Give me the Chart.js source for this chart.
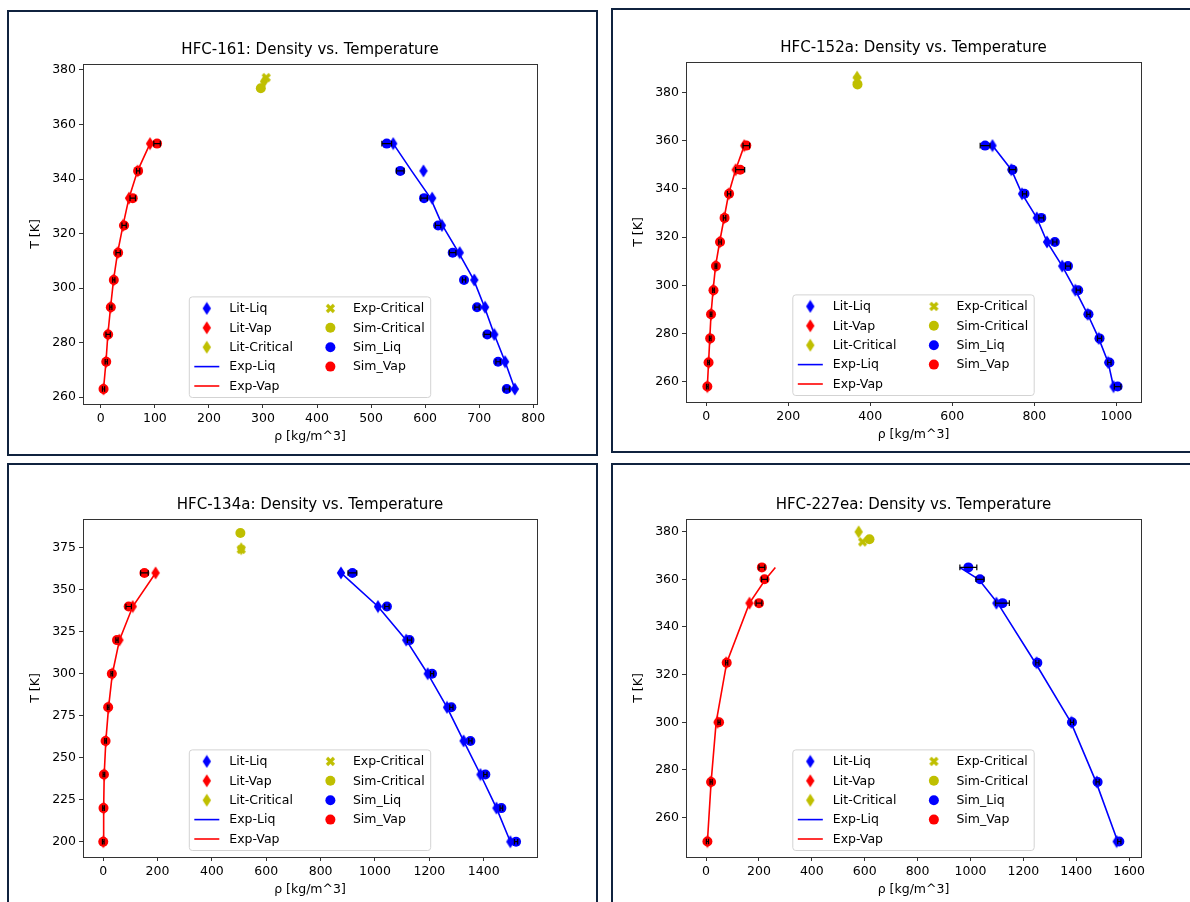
<!DOCTYPE html>
<html>
<head>
<meta charset="utf-8">
<script src="https://cdn.jsdelivr.net/npm/chart.js@4.4.0/dist/chart.umd.min.js"></script>
<style>
body { margin: 0; background: #fff; width: 1190px; height: 902px; overflow: hidden; position: relative; }
.panel { position: absolute; border: 2px solid #10233f; box-sizing: border-box; background: #fff; }
canvas { position: absolute; }
</style>
</head>
<body>
<div class="panel" style="left:7px;top:10px;width:591px;height:446px"></div>
<div class="panel" style="left:611px;top:8px;width:581px;height:445px"></div>
<div class="panel" style="left:7px;top:463px;width:591px;height:443px"></div>
<div class="panel" style="left:611px;top:463px;width:581px;height:443px"></div>
<canvas id="c161"></canvas>
<canvas id="c152"></canvas>
<canvas id="c134"></canvas>
<canvas id="c227"></canvas>
<script>
// HFC-161
const t161 = [263, 273, 283, 293, 303, 313, 323, 333, 343, 353];
const lit161Liq = [766, 748, 728, 711, 691, 664, 631, 613, 597, 541];
const lit161Vap = [5, 9.5, 13, 18, 23.5, 31, 41, 52, 68, 91];
const exp161Liq = [766, 748, 728, 710, 690, 662, 632, 610, 575, 541];
const exp161Vap = [5, 9.5, 13, 18, 23.5, 31, 41, 52, 68, 91];
const sim161Liq = [751, 735, 715, 696, 672, 651, 624, 598, 554, 529];
const sim161LiqErr = [5, 4, 6, 4, 3, 6, 5, 6, 7, 9];
const sim161Vap = [5, 10, 13.5, 18.5, 24, 32, 43, 59, 69, 104];
const sim161VapErr = [2, 2, 4, 2, 2, 4, 4, 5, 3, 6];
const crit161Rho = [302, 306, 296];   // lit, exp, sim
const crit161T = [375.8, 377.2, 373.3];

// HFC-152a
const t152 = [258, 268, 278, 288, 298, 308, 318, 328, 338, 348, 358];
const lit152Liq = [993, 980, 957, 930, 900, 868, 831, 806, 770, 744, 698];
const lit152Vap = [3, 6, 9, 12, 17, 23, 33, 44, 55, 72, 93];
const sim152Liq = [1003, 983, 959, 932, 907, 882, 850, 817, 776, 747, 680];
const sim152LiqErr = [8, 4, 5, 4, 5, 6, 5, 6, 5, 8, 12];
const sim152Vap = [3, 6, 10, 12, 18, 24, 34, 45, 56, 83, 98];
const sim152VapErr = [2, 2, 2, 2, 2, 2, 3, 3, 4, 11, 8];
const crit152Rho = [368, 368, 369];
const crit152T = [386.4, 385.2, 383.4];

// HFC-134a
const t134 = [200, 220, 240, 260, 280, 300, 320, 340, 360];
const lit134Liq = [1498, 1447, 1388, 1326, 1265, 1194, 1115, 1011, 875];
const lit134Vap = [0.8, 2, 4, 10, 20, 34, 60, 109, 193];
const sim134Liq = [1519, 1465, 1406, 1351, 1281, 1210, 1127, 1044, 917];
const sim134LiqErr = [6, 5, 6, 6, 6, 6, 8, 8, 16];
const sim134Vap = [0.5, 1.5, 3, 9, 18.5, 32, 51, 94, 152];
const sim134VapErr = [3, 3, 3, 3, 3, 3, 4, 10, 14];
const crit134Rho = [508, 508, 505];
const crit134T = [374.4, 374.0, 383.8];

// HFC-227ea
const tLit227 = [250, 275, 300, 325, 350];
const lit227Liq = [1553, 1478, 1382, 1250, 1098];
const lit227Vap = [5, 17, 43, 76, 164];
const tExp227 = [250, 275, 300, 325, 350, 360, 365];
const exp227Liq = [1557, 1475, 1380, 1245, 1103, 1031, 959];
const exp227Vap = [5, 19, 38, 78, 164, 225, 262];
const tSim227 = [250, 275, 300, 325, 350, 360, 365];
const sim227Liq = [1563, 1481, 1384, 1253, 1121, 1036, 992];
const sim227LiqErr = [6, 6, 6, 6, 26, 15, 32];
const sim227Vap = [5, 19, 49, 78, 200, 221, 211];
const sim227VapErr = [4, 4, 4, 4, 11, 11, 11];
const crit227Rho = [577, 592, 618];
const crit227T = [379.9, 375.7, 376.8];

const ticks161X = [0, 100, 200, 300, 400, 500, 600, 700, 800];
const ticks161Y = [260, 280, 300, 320, 340, 360, 380];
const ticks152X = [0, 200, 400, 600, 800, 1000];
const ticks152Y = [260, 280, 300, 320, 340, 360, 380];
const ticks134X = [0, 200, 400, 600, 800, 1000, 1200, 1400];
const ticks134Y = [200, 225, 250, 275, 300, 325, 350, 375];
const ticks227X = [0, 200, 400, 600, 800, 1000, 1200, 1400, 1600];
const ticks227Y = [260, 280, 300, 320, 340, 360, 380];

const FONT = 'DejaVu Sans';
const BLUE = '#0000ff', RED = '#ff0000', OLIVE = '#bfbf00';
const Y_AXIS_W = 54.5, X_AXIS_H = 40.5;

function pts(xs, ys) {
    return xs.map((x, i) => ({ x: x, y: ys[i] }));
}

function thinDiamond(color) {
    const c = document.createElement('canvas');
    c.width = 10; c.height = 14;
    const g = c.getContext('2d');
    g.fillStyle = color;
    g.beginPath();
    g.moveTo(5, 0.5); g.lineTo(9.2, 7); g.lineTo(5, 13.5); g.lineTo(0.8, 7);
    g.closePath();
    g.fill();
    return c;
}

function filledX(color) {
    const c = document.createElement('canvas');
    c.width = 11; c.height = 11;
    const g = c.getContext('2d');
    g.strokeStyle = color;
    g.lineWidth = 3.2;
    g.beginPath();
    g.moveTo(2, 2); g.lineTo(9, 9);
    g.moveTo(9, 2); g.lineTo(2, 9);
    g.stroke();
    return c;
}

const diaBlue = thinDiamond(BLUE), diaRed = thinDiamond(RED), diaOlive = thinDiamond(OLIVE);
const xOlive = filledX(OLIVE);

function markerSet(label, data, style, color, order) {
    return { label: label, data: data, pointStyle: style, pointRadius: 5, pointHoverRadius: 5,
             backgroundColor: color, borderColor: color, borderWidth: 0, showLine: false, order: order };
}
function circleSet(label, data, color, order, err) {
    return { label: label, data: data, pointStyle: 'circle', pointRadius: 5, pointHoverRadius: 5,
             backgroundColor: color, borderColor: color, borderWidth: 0, showLine: false, order: order, xErr: err };
}
function lineSet(label, data, color, order) {
    return { label: label, data: data, showLine: true, pointRadius: 0, borderColor: color,
             backgroundColor: color, borderWidth: 1.6, order: order };
}

function buildSets(litLiq, litVap, litCrit, expLiq, expVap, expCrit, simCrit, simLiq, simVap, liqErr, vapErr) {
    return [
        markerSet('Lit-Liq', litLiq, diaBlue, BLUE, 9),
        markerSet('Lit-Vap', litVap, diaRed, RED, 8),
        markerSet('Lit-Critical', litCrit, diaOlive, OLIVE, 7),
        lineSet('Exp-Liq', expLiq, BLUE, 6),
        lineSet('Exp-Vap', expVap, RED, 5),
        markerSet('Exp-Critical', expCrit, xOlive, OLIVE, 4),
        circleSet('Sim-Critical', simCrit, OLIVE, 3),
        circleSet('Sim_Liq', simLiq, BLUE, 2, liqErr),
        circleSet('Sim_Vap', simVap, RED, 1, vapErr)
    ];
}

const errorBars = {
    id: 'errorBars',
    afterDatasetsDraw(chart) {
        const { ctx, scales: { x, y } } = chart;
        ctx.save();
        ctx.strokeStyle = '#000';
        ctx.lineWidth = 1.2;
        chart.data.datasets.forEach(ds => {
            if (!ds.xErr) return;
            ds.data.forEach((p, i) => {
                const e = ds.xErr[i];
                const x0 = x.getPixelForValue(p.x - e);
                const x1 = x.getPixelForValue(p.x + e);
                const py = y.getPixelForValue(p.y);
                ctx.beginPath();
                ctx.moveTo(x0, py); ctx.lineTo(x1, py);
                ctx.moveTo(x0, py - 2.8); ctx.lineTo(x0, py + 2.8);
                ctx.moveTo(x1, py - 2.8); ctx.lineTo(x1, py + 2.8);
                ctx.stroke();
            });
        });
        ctx.restore();
    }
};

const decor = {
    id: 'decor',
    afterDraw(chart, args, opts) {
        const { ctx, chartArea: a } = chart;
        ctx.save();
        // spines
        ctx.strokeStyle = '#333';
        ctx.lineWidth = 1;
        ctx.strokeRect(Math.round(a.left) + 0.5, Math.round(a.top) + 0.5,
                       Math.round(a.right - a.left), Math.round(a.bottom - a.top));
        // axes title
        ctx.fillStyle = '#000';
        ctx.font = '15px "' + FONT + '"';
        ctx.textAlign = 'center';
        ctx.textBaseline = 'middle';
        ctx.fillText(opts.text, (a.left + a.right) / 2, a.top - 14);

        // legend, two columns
        const ds = chart.data.datasets;
        ctx.font = '12.5px "' + FONT + '"';
        const pad = 5, handle = 25, gap = 10, colGap = 25, rowH = 19.4, edge = 11.5;
        const cols = [ds.slice(0, 5), ds.slice(5)];
        const widths = cols.map(c => Math.max(...c.map(d => ctx.measureText(d.label).width)));
        const w = pad + handle + gap + widths[0] + colGap + handle + gap + widths[1] + pad + 1;
        const h = edge * 2 + rowH * 4;
        const left = (a.left + a.right) / 2 - w / 2;
        const top = a.bottom - 6.5 - h;
        ctx.beginPath();
        ctx.roundRect(left, top, w, h, 3);
        ctx.fillStyle = 'rgba(255,255,255,0.8)';
        ctx.fill();
        ctx.strokeStyle = '#d3d3d3';
        ctx.stroke();
        cols.forEach((col, ci) => {
            const cx = left + pad + ci * (handle + gap + widths[0] + colGap);
            col.forEach((d, ri) => {
                const cy = top + edge + ri * rowH;
                if (d.showLine) {
                    ctx.strokeStyle = d.borderColor;
                    ctx.lineWidth = 1.6;
                    ctx.beginPath();
                    ctx.moveTo(cx, cy); ctx.lineTo(cx + handle, cy);
                    ctx.stroke();
                } else if (d.pointStyle === 'circle') {
                    ctx.fillStyle = d.backgroundColor;
                    ctx.beginPath();
                    ctx.arc(cx + handle / 2, cy, d.pointRadius, 0, Math.PI * 2);
                    ctx.fill();
                } else {
                    const img = d.pointStyle;
                    ctx.drawImage(img, cx + handle / 2 - img.width / 2, cy - img.height / 2);
                }
                ctx.fillStyle = '#000';
                ctx.textAlign = 'left';
                ctx.fillText(d.label, cx + handle + gap, cy + 0.5);
            });
        });
        ctx.restore();
    }
};

function axis(min, max, tickList, title, isX) {
    return {
        type: 'linear',
        min: min,
        max: max,
        afterBuildTicks: s => { s.ticks = tickList.map(v => ({ value: v })); },
        afterFit: s => { if (isX) s.height = X_AXIS_H; else s.width = Y_AXIS_W; },
        ticks: {
            autoSkip: false, maxRotation: 0, padding: 3, color: '#000',
            font: { family: FONT, size: 12.5 },
            callback: v => String(v)
        },
        grid: { drawOnChartArea: false, drawTicks: true, tickLength: 4, color: '#333' },
        border: { display: false },
        title: { display: true, text: title, color: '#000', padding: 0, font: { family: FONT, size: 12.5 } }
    };
}

function makeChart(id, box, area, title, xr, yr, xTicks, yTicks, datasets) {
    const cv = document.getElementById(id);
    const cx = box[0] + 2, cy = box[1] + 2, cw = box[2] - 4, ch = box[3] - 4;
    cv.width = cw; cv.height = ch;
    cv.style.left = cx + 'px'; cv.style.top = cy + 'px';
    cv.style.width = cw + 'px'; cv.style.height = ch + 'px';
    return new Chart(cv.getContext('2d'), {
        type: 'scatter',
        data: { datasets: datasets },
        options: {
            responsive: false,
            animation: false,
            events: [],
            layout: {
                padding: {
                    left: area[0] - cx - Y_AXIS_W,
                    top: area[1] - cy,
                    right: cx + cw - area[2],
                    bottom: cy + ch - area[3] - X_AXIS_H
                }
            },
            scales: {
                x: axis(xr[0], xr[1], xTicks, 'ρ [kg/m^3]', true),
                y: axis(yr[0], yr[1], yTicks, 'T [K]', false)
            },
            plugins: {
                legend: { display: false },
                tooltip: { enabled: false },
                decor: { text: title }
            }
        },
        plugins: [errorBars, decor]
    });
}

makeChart('c161', [7, 10, 591, 446], [83, 64, 537, 404], 'HFC-161: Density vs. Temperature',
    [-33, 807], [257.5, 382.2], ticks161X, ticks161Y,
    buildSets(pts(lit161Liq, t161), pts(lit161Vap, t161), pts([crit161Rho[0]], [crit161T[0]]),
              pts(exp161Liq, t161), pts(exp161Vap, t161), pts([crit161Rho[1]], [crit161T[1]]),
              pts([crit161Rho[2]], [crit161T[2]]), pts(sim161Liq, t161), pts(sim161Vap, t161),
              sim161LiqErr, sim161VapErr));

makeChart('c152', [611, 8, 581, 445], [686, 62, 1141, 402], 'HFC-152a: Density vs. Temperature',
    [-49, 1060], [251.6, 392.7], ticks152X, ticks152Y,
    buildSets(pts(lit152Liq, t152), pts(lit152Vap, t152), pts([crit152Rho[0]], [crit152T[0]]),
              pts(lit152Liq, t152), pts(lit152Vap, t152), pts([crit152Rho[1]], [crit152T[1]]),
              pts([crit152Rho[2]], [crit152T[2]]), pts(sim152Liq, t152), pts(sim152Vap, t152),
              sim152LiqErr, sim152VapErr));

makeChart('c134', [7, 463, 591, 443], [83, 519, 537, 857], 'HFC-134a: Density vs. Temperature',
    [-74, 1596], [190.9, 392.1], ticks134X, ticks134Y,
    buildSets(pts(lit134Liq, t134), pts(lit134Vap, t134), pts([crit134Rho[0]], [crit134T[0]]),
              pts(lit134Liq, t134), pts(lit134Vap, t134), pts([crit134Rho[1]], [crit134T[1]]),
              pts([crit134Rho[2]], [crit134T[2]]), pts(sim134Liq, t134), pts(sim134Vap, t134),
              sim134LiqErr, sim134VapErr));

makeChart('c227', [611, 463, 581, 443], [686, 519, 1141, 857], 'HFC-227ea: Density vs. Temperature',
    [-76, 1645], [243.5, 385.3], ticks227X, ticks227Y,
    buildSets(pts(lit227Liq, tLit227), pts(lit227Vap, tLit227), pts([crit227Rho[0]], [crit227T[0]]),
              pts(exp227Liq, tExp227), pts(exp227Vap, tExp227), pts([crit227Rho[1]], [crit227T[1]]),
              pts([crit227Rho[2]], [crit227T[2]]), pts(sim227Liq, tSim227), pts(sim227Vap, tSim227),
              sim227LiqErr, sim227VapErr));
</script>
</body>
</html>
